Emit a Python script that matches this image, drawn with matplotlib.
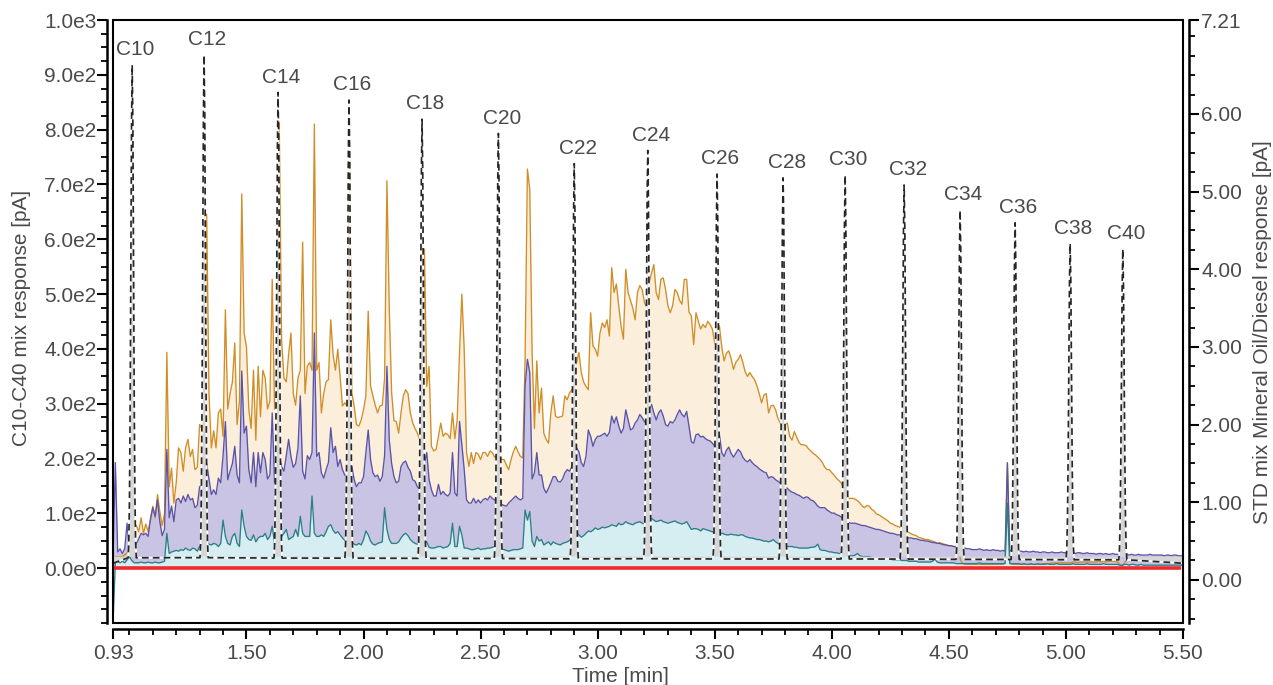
import numpy as np
import matplotlib
matplotlib.use("Agg")
import matplotlib.pyplot as plt
from matplotlib.patches import Rectangle
from matplotlib.ticker import FixedLocator

plt.rcParams['font.family'] = ['Liberation Sans', 'DejaVu Sans']

# ---------------- data ----------------
TIME_START = 0.93
TIME_STEP = 0.01

# Mineral oil / diesel standard mix, high level (orange) [pA, right axis]
oil_high = [
    0.20, 0.30, 0.30, 0.30, 0.30, 0.32, 0.35,
    0.36, 0.45, 0.62, 0.70, 0.62, 0.80, 0.60, 0.72, 0.62, 0.78,
    0.95, 0.80, 1.10, 0.88, 0.70, 0.85, 2.93, 1.20, 1.44, 0.99,
    1.25, 1.70, 1.64, 1.40, 1.70, 1.81, 1.59, 1.68, 1.42, 1.45,
    2.00, 1.95, 2.30, 4.71, 2.40, 1.70, 1.92, 1.70, 2.15, 2.20,
    1.85, 3.48, 2.20, 2.40, 2.55, 3.05, 2.00, 2.30, 4.97, 3.18,
    3.00, 2.20, 1.95, 2.70, 1.80, 2.75, 2.10, 2.70, 2.60, 2.20,
    2.30, 3.87, 2.20, 2.50, 5.90, 3.10, 2.60, 2.55, 2.90, 3.18,
    2.40, 2.25, 2.60, 2.70, 4.35, 2.40, 2.75, 2.80, 2.70, 5.87,
    2.70, 2.80, 2.15, 2.40, 2.55, 2.58, 3.35, 2.90, 2.70, 2.97,
    2.62, 2.24, 2.28, 2.24, 5.55, 2.41, 2.24, 2.00, 1.98, 2.06,
    2.19, 2.37, 3.46, 2.50, 2.37, 2.25, 2.15, 2.24, 2.25, 2.60,
    5.14, 3.48, 2.41, 2.05, 2.04, 1.89, 2.15, 2.37, 2.45, 2.40,
    2.15, 2.02, 1.95, 1.89, 1.81, 1.85, 4.26, 2.49, 2.75, 1.72,
    1.66, 1.68, 1.85, 2.02, 1.85, 1.89, 1.87, 1.82, 2.15, 1.82,
    2.06, 2.93, 3.68, 2.97, 1.64, 1.46, 1.64, 1.50, 1.64, 1.62,
    1.55, 1.64, 1.64, 1.59, 1.66, 1.64, 1.58, 1.60, 1.62, 1.55,
    1.55, 1.48, 1.42, 1.55, 1.65, 1.72, 1.65, 1.59, 1.57, 2.84,
    5.29, 5.03, 2.93, 1.95, 2.82, 2.15, 2.47, 1.89, 1.81, 1.76,
    2.15, 2.37, 2.11, 2.09, 2.10, 2.11, 2.37, 2.32, 2.41, 2.45,
    2.50, 2.80, 2.93, 2.67, 2.55, 2.49, 2.45, 3.44, 3.01, 2.97,
    2.88, 3.18, 3.31, 3.25, 3.35, 3.14, 4.02, 3.70, 3.81, 3.53,
    3.27, 3.10, 4.00, 3.70, 3.60, 3.50, 3.35, 3.70, 3.79, 3.74,
    3.57, 3.50, 3.83, 3.95, 4.06, 3.70, 3.61, 3.87, 3.89, 3.74,
    3.53, 3.44, 3.53, 3.74, 3.70, 3.60, 3.55, 3.87, 3.87, 3.45,
    3.40, 3.03, 3.44, 3.33, 3.23, 3.29, 3.25, 3.33, 3.29, 3.23,
    3.05, 3.10, 3.27, 3.00, 2.82, 2.92, 2.95, 2.85, 2.71, 2.80,
    2.84, 2.90, 2.80, 2.68, 2.62, 2.67, 2.62, 2.58, 2.50, 2.40,
    2.28, 2.38, 2.40, 2.15, 2.24, 2.25, 2.19, 2.08, 2.02, 1.98,
    2.00, 2.02, 1.85, 1.80, 1.91, 1.84, 1.77, 1.74, 1.74, 1.73,
    1.69, 1.66, 1.63, 1.61, 1.58, 1.55, 1.51, 1.45, 1.42, 1.42,
    1.38, 1.35, 1.31, 1.28, 1.25, 1.18, 1.12, 1.05, 1.05, 1.05,
    1.04, 1.02, 0.99, 0.95, 0.93, 0.96, 0.95, 0.91, 0.89, 0.85,
    0.84, 0.82, 0.80, 0.78, 0.76, 0.73, 0.72, 0.70, 0.69, 0.68,
    0.66, 0.64, 0.62, 0.61, 0.59, 0.58, 0.57, 0.55, 0.54, 0.53,
    0.52, 0.52, 0.51, 0.50, 0.49, 0.47, 0.48, 0.47, 0.46, 0.45,
    0.44, 0.44, 0.43, 0.42, 0.42, 0.25, 0.21, 0.20, 0.20, 0.20,
    0.20, 0.20, 0.20, 0.20, 0.20, 0.20, 0.20, 0.20, 0.20, 0.20,
    0.20, 0.20, 0.20, 0.20, 0.22, 1.50, 0.22, 0.20, 0.20, 0.20,
    0.20, 0.20, 0.20, 0.20, 0.20, 0.20, 0.20, 0.20, 0.20, 0.20,
    0.21, 0.21, 0.21, 0.21, 0.22, 0.22, 0.22, 0.22, 0.22, 0.22,
    0.22, 0.22, 0.22, 0.23, 0.23, 0.22, 0.23, 0.23, 0.23, 0.23,
    0.23, 0.23, 0.23, 0.23, 0.24, 0.23, 0.24, 0.23, 0.24, 0.24,
    0.24, 0.24, 0.23, 0.20, 0.17, 0.22, 0.26, 0.26, 0.25, 0.26,
    0.26, 0.26, 0.26, 0.25, 0.26, 0.26, 0.25, 0.25, 0.25, 0.25,
    0.25, 0.25, 0.25, 0.24, 0.25, 0.24, 0.24, 0.24, 0.24, 0.23,
    0.23,
]

# medium level (purple)
oil_mid = [
    0.25, 1.51, 0.36, 0.40, 0.34, 0.40, 0.73,
    0.38, 0.38, 0.40, 0.47, 0.53, 0.60, 0.58, 0.60, 0.56, 0.78,
    0.93, 0.82, 1.03, 0.75, 0.57, 0.65, 1.68, 0.80, 0.95, 0.75,
    1.03, 1.05, 0.99, 1.08, 1.01, 1.10, 1.03, 1.05, 0.93, 0.96,
    1.20, 1.22, 1.30, 1.50, 1.30, 1.10, 1.16, 1.10, 1.31, 1.25,
    1.60, 2.04, 1.29, 1.40, 1.50, 1.72, 1.35, 1.25, 2.69, 1.89,
    1.98, 1.42, 1.25, 1.64, 1.20, 1.64, 1.38, 1.64, 1.55, 1.30,
    1.35, 2.15, 1.25, 1.50, 1.60, 1.46, 1.40, 1.60, 1.81, 1.59,
    1.45, 1.50, 1.70, 2.37, 1.40, 1.30, 1.60, 1.55, 1.64, 3.18,
    1.59, 1.64, 1.38, 1.31, 1.42, 1.51, 1.96, 1.64, 1.72, 1.46,
    1.55, 1.42, 1.35, 1.36, 1.40, 1.46, 1.29, 1.20, 1.25, 1.25,
    1.33, 1.64, 1.93, 1.55, 1.38, 1.33, 1.35, 1.27, 1.33, 1.60,
    2.75, 1.80, 1.50, 1.33, 1.25, 1.27, 1.46, 1.51, 1.53, 1.45,
    1.40, 1.29, 1.27, 1.20, 1.16, 1.20, 1.50, 1.64, 1.29, 1.16,
    1.08, 1.08, 1.23, 1.10, 1.14, 1.10, 1.08, 1.12, 1.64, 1.12,
    1.08, 2.04, 1.74, 1.42, 1.03, 0.99, 0.99, 1.05, 0.99, 1.03,
    0.99, 1.03, 1.05, 1.03, 1.08, 1.05, 1.03, 1.03, 1.00, 0.97,
    0.96, 0.95, 0.99, 1.02, 1.05, 1.08, 1.05, 1.03, 1.05, 2.50,
    2.84, 2.67, 1.30, 1.38, 1.64, 1.35, 1.35, 1.18, 1.12, 1.18,
    1.25, 1.33, 1.33, 1.27, 1.26, 1.30, 1.38, 1.42, 1.40, 1.46,
    1.55, 1.70, 1.65, 1.51, 1.46, 1.59, 1.93, 1.85, 1.72, 1.81,
    1.85, 1.85, 1.87, 1.89, 1.85, 1.90, 2.11, 2.02, 2.10, 1.98,
    1.89, 1.95, 2.19, 2.06, 1.93, 1.95, 2.02, 2.06, 2.13, 2.09,
    2.04, 2.00, 2.20, 2.26, 2.15, 2.06, 2.15, 2.19, 2.11, 2.00,
    1.98, 2.04, 2.02, 2.06, 2.13, 2.19, 2.13, 2.10, 2.17, 1.98,
    1.78, 1.76, 1.87, 1.88, 1.84, 1.85, 1.82, 1.80, 1.79, 1.76,
    1.72, 1.75, 1.87, 1.64, 1.59, 1.67, 1.71, 1.63, 1.58, 1.63,
    1.68, 1.65, 1.58, 1.54, 1.52, 1.55, 1.51, 1.48, 1.46, 1.43,
    1.41, 1.39, 1.38, 1.31, 1.33, 1.32, 1.29, 1.27, 1.25, 1.23,
    1.20, 1.18, 1.15, 1.13, 1.12, 1.10, 1.09, 1.07, 1.05, 1.07,
    1.06, 1.03, 1.02, 0.99, 0.95, 0.93, 0.93, 0.93, 0.90, 0.88,
    0.86, 0.86, 0.84, 0.83, 0.81, 0.79, 0.76, 0.74, 0.73, 0.73,
    0.73, 0.72, 0.71, 0.70, 0.70, 0.69, 0.68, 0.67, 0.66, 0.65,
    0.65, 0.64, 0.63, 0.62, 0.61, 0.60, 0.60, 0.59, 0.58, 0.58,
    0.57, 0.56, 0.55, 0.54, 0.54, 0.53, 0.53, 0.52, 0.51, 0.51,
    0.50, 0.50, 0.49, 0.48, 0.48, 0.47, 0.47, 0.46, 0.45, 0.45,
    0.44, 0.44, 0.43, 0.43, 0.42, 0.41, 0.41, 0.41, 0.40, 0.40,
    0.39, 0.39, 0.39, 0.40, 0.39, 0.38, 0.39, 0.38, 0.38, 0.39,
    0.38, 0.38, 0.37, 0.38, 0.37, 1.51, 0.38, 0.37, 0.37, 0.36,
    0.37, 0.37, 0.36, 0.37, 0.36, 0.36, 0.37, 0.36, 0.36, 0.35,
    0.36, 0.36, 0.35, 0.35, 0.36, 0.35, 0.35, 0.35, 0.36, 0.35,
    0.35, 0.35, 0.35, 0.35, 0.34, 0.35, 0.35, 0.34, 0.34, 0.35,
    0.34, 0.34, 0.34, 0.33, 0.34, 0.34, 0.33, 0.34, 0.33, 0.33,
    0.34, 0.33, 0.33, 0.33, 0.32, 0.33, 0.33, 0.32, 0.33, 0.32,
    0.32, 0.33, 0.32, 0.32, 0.32, 0.32, 0.33, 0.32, 0.32, 0.32,
    0.32, 0.32, 0.31, 0.32, 0.32, 0.31, 0.32, 0.32, 0.31, 0.31,
    0.31,
]

# low level (teal)
oil_low = [
    -0.55, 0.22, 0.24, 0.22, 0.24, 0.22, 0.26,
    0.30, 0.25, 0.22, 0.22, 0.22, 0.23, 0.22, 0.22, 0.23, 0.22,
    0.22, 0.23, 0.22, 0.22, 0.23, 0.24, 0.60, 0.34, 0.36, 0.37,
    0.38, 0.37, 0.39, 0.38, 0.41, 0.39, 0.38, 0.41, 0.40, 0.37,
    0.43, 0.45, 0.40, 0.49, 0.46, 0.45, 0.47, 0.46, 0.43, 0.47,
    0.77, 0.56, 0.47, 0.45, 0.56, 0.60, 0.47, 0.43, 0.90, 0.69,
    0.56, 0.52, 0.51, 0.58, 0.49, 0.54, 0.56, 0.56, 0.60, 0.52,
    0.56, 0.69, 0.47, 0.48, 0.50, 0.56, 0.60, 0.65, 0.52, 0.54,
    0.56, 0.65, 0.56, 0.82, 0.60, 0.56, 0.56, 0.56, 1.08, 0.60,
    0.56, 0.56, 0.58, 0.56, 0.62, 0.69, 0.71, 0.64, 0.60, 0.62,
    0.58, 0.54, 0.51, 0.49, 0.49, 0.49, 0.46, 0.45, 0.47, 0.45,
    0.52, 0.63, 0.58, 0.50, 0.46, 0.45, 0.47, 0.48, 0.49, 0.93,
    0.65, 0.52, 0.47, 0.47, 0.47, 0.49, 0.54, 0.58, 0.60, 0.57,
    0.52, 0.49, 0.47, 0.46, 0.45, 0.45, 0.47, 0.49, 0.42, 0.41,
    0.41, 0.42, 0.43, 0.43, 0.41, 0.42, 0.43, 0.47, 0.73, 0.43,
    0.43, 0.69, 0.58, 0.41, 0.41, 0.40, 0.39, 0.39, 0.40, 0.41,
    0.39, 0.40, 0.40, 0.41, 0.41, 0.42, 0.43, 0.43, 0.42, 0.40,
    0.39, 0.38, 0.37, 0.38, 0.39, 0.39, 0.39, 0.40, 0.41, 0.90,
    0.77, 0.88, 0.50, 0.43, 0.56, 0.50, 0.52, 0.45, 0.47, 0.49,
    0.45, 0.49, 0.47, 0.46, 0.45, 0.47, 0.48, 0.49, 0.51, 0.53,
    0.55, 0.60, 0.58, 0.55, 0.57, 0.60, 0.63, 0.62, 0.64, 0.67,
    0.65, 0.66, 0.68, 0.67, 0.68, 0.69, 0.71, 0.70, 0.69, 0.73,
    0.71, 0.72, 0.75, 0.73, 0.72, 0.71, 0.73, 0.74, 0.75, 0.73,
    0.72, 0.74, 0.80, 0.79, 0.77, 0.75, 0.76, 0.77, 0.75, 0.74,
    0.73, 0.74, 0.75, 0.76, 0.74, 0.73, 0.72, 0.73, 0.75, 0.70,
    0.65, 0.66, 0.66, 0.65, 0.63, 0.66, 0.65, 0.64, 0.63, 0.62,
    0.61, 0.60, 0.60, 0.60, 0.59, 0.58, 0.58, 0.59, 0.58, 0.58,
    0.57, 0.58, 0.58, 0.56, 0.55, 0.54, 0.54, 0.53, 0.52, 0.52,
    0.51, 0.50, 0.50, 0.49, 0.50, 0.52, 0.49, 0.47, 0.45, 0.44,
    0.43, 0.43, 0.43, 0.43, 0.42, 0.42, 0.41, 0.41, 0.41, 0.41,
    0.41, 0.42, 0.42, 0.43, 0.46, 0.39, 0.38, 0.38, 0.37, 0.36,
    0.36, 0.35, 0.35, 0.34, 0.34, 0.33, 0.32, 0.32, 0.31, 0.31,
    0.32, 0.34, 0.31, 0.30, 0.30, 0.30, 0.30, 0.29, 0.28, 0.28,
    0.28, 0.28, 0.28, 0.27, 0.27, 0.27, 0.26, 0.26, 0.26, 0.26,
    0.25, 0.25, 0.25, 0.24, 0.24, 0.24, 0.24, 0.23, 0.23, 0.23,
    0.23, 0.23, 0.23, 0.24, 0.27, 0.23, 0.22, 0.22, 0.22, 0.22,
    0.22, 0.22, 0.22, 0.21, 0.21, 0.21, 0.21, 0.21, 0.21, 0.21,
    0.21, 0.21, 0.21, 0.22, 0.21, 0.21, 0.21, 0.21, 0.21, 0.21,
    0.21, 0.21, 0.21, 0.21, 0.21, 0.99, 0.21, 0.21, 0.21, 0.21,
    0.21, 0.20, 0.21, 0.20, 0.20, 0.21, 0.20, 0.20, 0.21, 0.20,
    0.20, 0.20, 0.21, 0.20, 0.20, 0.20, 0.21, 0.20, 0.20, 0.20,
    0.20, 0.20, 0.20, 0.21, 0.20, 0.20, 0.20, 0.20, 0.20, 0.21,
    0.20, 0.20, 0.20, 0.20, 0.20, 0.20, 0.21, 0.20, 0.20, 0.20,
    0.20, 0.20, 0.20, 0.19, 0.19, 0.20, 0.20, 0.19, 0.20, 0.20,
    0.19, 0.19, 0.20, 0.19, 0.19, 0.19, 0.19, 0.19, 0.19, 0.19,
    0.19, 0.19, 0.19, 0.19, 0.19, 0.19, 0.19, 0.19, 0.19, 0.19,
    0.19,
]

# n-alkane C10-C40 standard (left axis)
alkane_names = ['C10', 'C12', 'C14', 'C16', 'C18', 'C20', 'C22', 'C24',
                'C26', 'C28', 'C30', 'C32', 'C34', 'C36', 'C38', 'C40']
alkane_rt = [1.012, 1.319, 1.635, 1.938, 2.250, 2.576, 2.900, 3.214,
             3.510, 3.792, 4.057, 4.309, 4.548, 4.783, 5.018, 5.243]
alkane_height = [918, 936, 868, 854, 819, 793, 738, 762,
                 719, 712, 717, 699, 653, 630, 592, 582]
alkane_baseline = 9
alkane_band_level = 22

zero_line_time = [0.93, 5.49]
zero_line_resp = [0, 0]

x_ticks = [0.93, 1.50, 2.00, 2.50, 3.00, 3.50, 4.00, 4.50, 5.00, 5.50]
x_tick_labels = ['0.93', '1.50', '2.00', '2.50', '3.00', '3.50', '4.00', '4.50', '5.00', '5.50']
left_ticks = [0, 100, 200, 300, 400, 500, 600, 700, 800, 900, 1000]
left_tick_labels = ['0.0e0', '1.0e2', '2.0e2', '3.0e2', '4.0e2', '5.0e2',
                    '6.0e2', '7.0e2', '8.0e2', '9.0e2', '1.0e3']
right_ticks = [0, 1, 2, 3, 4, 5, 6, 7.21]
right_tick_labels = ['0.00', '1.00', '2.00', '3.00', '4.00', '5.00', '6.00', '7.21']

# ---------------- styles ----------------
W, H = 1273, 685
TXT = '#4a4a4a'
ORANGE, ORANGE_FILL = '#d18d26', '#fbeedb'
PURPLE, PURPLE_FILL = '#5a53a6', '#c9c4e3'
TEAL, TEAL_FILL = '#2b8086', '#d6edf1'
GRAY_FILL = '#d6d6d6'
RED = '#ef2b2b'
PEAK_SIGMA = 0.0058
PEAK_OFFSETS = [-3, -2.5, -2, -1.5, -1, -0.5, 0, 0.5, 1, 1.5, 2, 2.5, 3]
PEAK_PROFILE = [0.011, 0.044, 0.135, 0.325, 0.607, 0.882, 1.0,
                0.882, 0.607, 0.325, 0.135, 0.044, 0.011]
FS = 15

n = len(oil_high)
assert len(oil_mid) == n and len(oil_low) == n, (len(oil_high), len(oil_mid), len(oil_low))
time = np.round(TIME_START + TIME_STEP * np.arange(n), 2)

# alkane trace
std_t = [time[0]]
std_y = [alkane_baseline]
for rt, h in zip(alkane_rt, alkane_height):
    for o, f in zip(PEAK_OFFSETS, PEAK_PROFILE):
        std_t.append(rt + o * PEAK_SIGMA)
        std_y.append(alkane_baseline + (h - alkane_baseline) * f)
std_t.append(time[-1])
std_y.append(alkane_baseline)

fig = plt.figure(figsize=(W / 100, H / 100), dpi=100)
ax = fig.add_axes([113 / W, 1 - 623 / H, (1183 - 113) / W, (623 - 20) / H])
ax2 = ax.twinx()

LEFT_LIM = (-100, 1000)
RIGHT_LIM = (-0.555, 7.21)
ax.set_xlim(0.93, 5.50)
ax.set_ylim(*LEFT_LIM)
ax2.set_ylim(*RIGHT_LIM)
fill_floor = RIGHT_LIM[0] + (0 - LEFT_LIM[0]) / (LEFT_LIM[1] - LEFT_LIM[0]) * (RIGHT_LIM[1] - RIGHT_LIM[0])

series = [(oil_high, ORANGE, ORANGE_FILL), (oil_mid, PURPLE, PURPLE_FILL), (oil_low, TEAL, TEAL_FILL)]
for vals, lc, fc in series:
    ax2.fill_between(time, vals, fill_floor, color=fc, lw=0, zorder=1)
for vals, lc, fc in series:
    ax2.plot(time, vals, color=lc, lw=0.95, zorder=2)

# left axis on top
ax.set_zorder(ax2.get_zorder() + 1)
ax.patch.set_visible(False)

ax.fill_between(std_t, std_y, alkane_band_level, color=GRAY_FILL, lw=0, zorder=2)
ax.plot(std_t, std_y, color='#262626', lw=1.2, ls=(0, (4, 2.5)), gapcolor='white', zorder=3)
ax.plot(zero_line_time, zero_line_resp, color=RED, lw=2.6, zorder=4, solid_capstyle='butt')

for name, rt, h in zip(alkane_names, alkane_rt, alkane_height):
    ax.annotate(name, (rt, h), xytext=(2.5, 11), textcoords='offset points',
                ha='center', va='center', fontsize=FS, color=TXT)

# spines / frame
for s in ['top', 'right']:
    ax.spines[s].set_visible(False)
for s in ['top', 'left', 'bottom']:
    ax2.spines[s].set_visible(False)
ax.spines['left'].set_position(('outward', 4))
ax.spines['bottom'].set_position(('outward', 4))
ax2.spines['right'].set_position(('outward', 4))
for sp in [ax.spines['left'], ax.spines['bottom'], ax2.spines['right']]:
    sp.set_linewidth(1.8)
ax.add_patch(Rectangle((0, 0), 1, 1, transform=ax.transAxes, fill=False,
                       lw=1.5, ec='black', clip_on=False, zorder=10))

ax.xaxis.set_major_locator(FixedLocator(x_ticks))
ax.set_xticklabels(x_tick_labels)
ax.xaxis.set_minor_locator(FixedLocator(np.round(np.arange(1.0, 5.45, 0.1), 2)))
ax.yaxis.set_major_locator(FixedLocator(left_ticks))
ax.set_yticklabels(left_tick_labels)
ax.yaxis.set_minor_locator(FixedLocator(np.arange(-100, 1001, 25)))
ax2.yaxis.set_major_locator(FixedLocator(right_ticks))
ax2.set_yticklabels(right_tick_labels)
ax2.yaxis.set_minor_locator(FixedLocator(np.arange(-0.5, 7.01, 0.25)))

ax.tick_params(axis='both', which='major', length=7, width=1.5, color='black',
               labelcolor=TXT, labelsize=FS)
ax.tick_params(axis='both', which='minor', length=4, width=1.3, color='black')
ax.tick_params(axis='y', pad=1)
ax.tick_params(axis='x', pad=4)
ax2.tick_params(axis='y', which='major', length=7, width=1.5, color='black',
                labelcolor=TXT, labelsize=FS, pad=2)
ax2.tick_params(axis='y', which='minor', length=4, width=1.3, color='black')

fig.text(22 / W, 1 - 318 / H, 'C10-C40 mix response [pA]', rotation=90,
         ha='center', va='center', fontsize=FS, color=TXT)
fig.text(1263 / W, 1 - 332 / H, 'STD mix Mineral Oil/Diesel response [pA]', rotation=90,
         ha='center', va='center', fontsize=FS, color=TXT)
fig.text(620 / W, 1 - 676 / H, 'Time [min]', ha='center', va='center', fontsize=FS, color=TXT)

fig.savefig('out.png', dpi=100)
